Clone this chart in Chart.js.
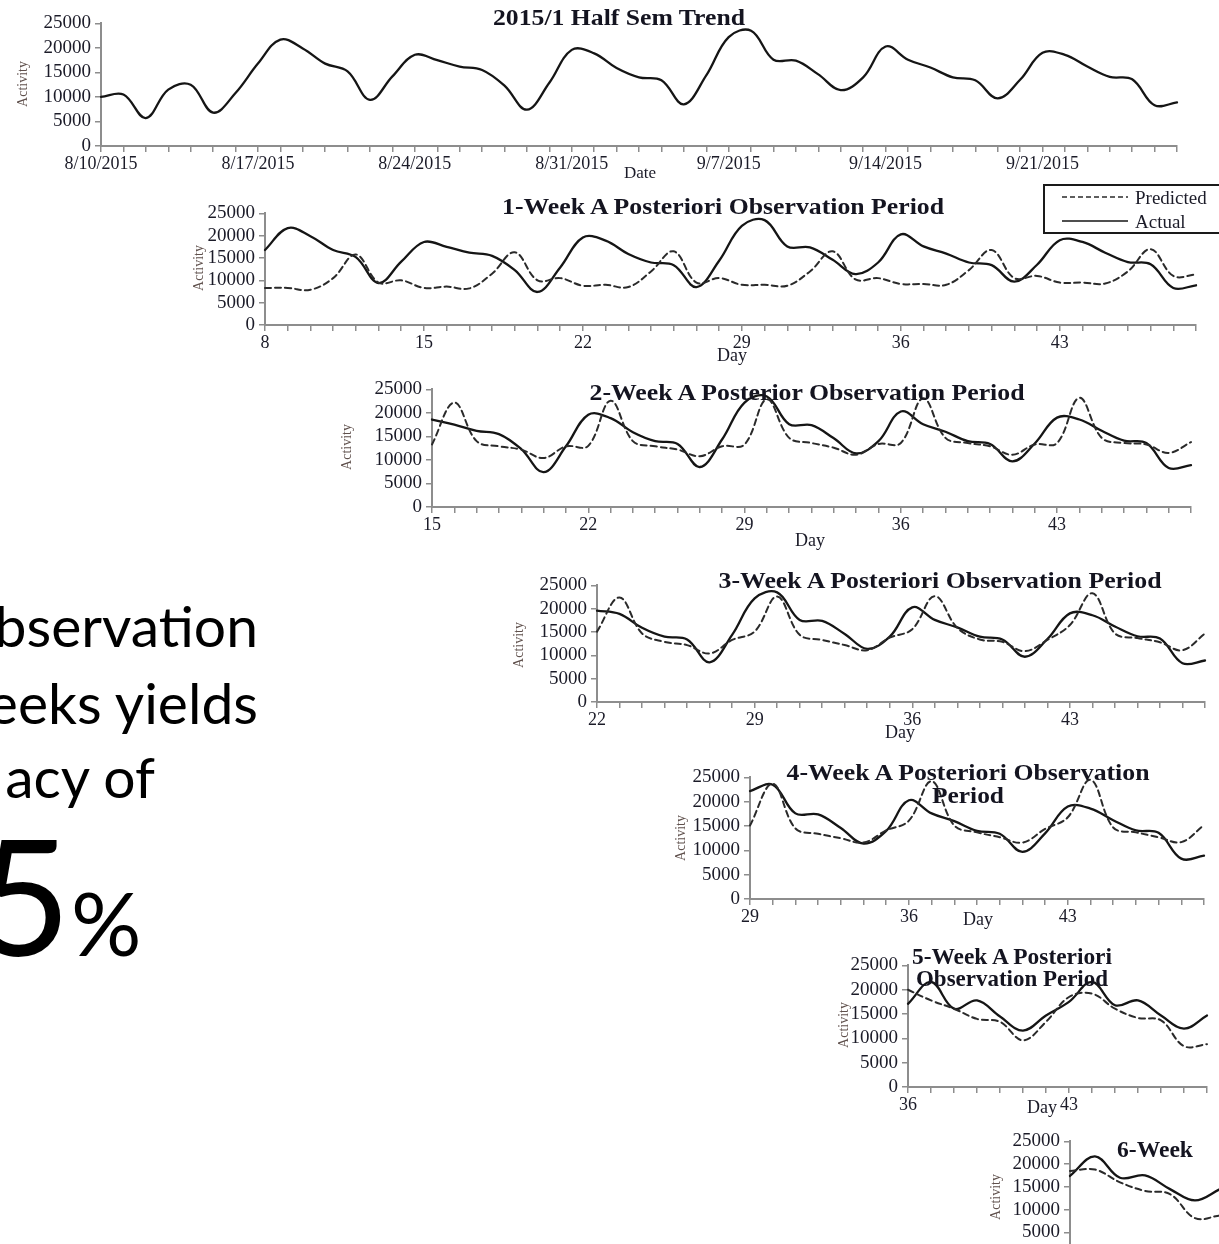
<!DOCTYPE html>
<html>
<head>
<meta charset="utf-8">
<script src="https://cdn.jsdelivr.net/npm/chart.js@4.4.1/dist/chart.umd.min.js"></script>
<style>
  html, body { margin: 0; padding: 0; background: #fff; }
  body { width: 1219px; height: 1244px; overflow: hidden; position: relative; }
  canvas.panel { position: absolute; }
  #overlay { position: absolute; left: 0; top: 0; pointer-events: none; }
</style>
</head>
<body>
<svg id="overlay" width="1219" height="1244" xmlns="http://www.w3.org/2000/svg"></svg>
<script>
// ---- data ----
const halfSemDates = [
  "8/10/2015","8/11/2015","8/12/2015","8/13/2015","8/14/2015","8/15/2015","8/16/2015",
  "8/17/2015","8/18/2015","8/19/2015","8/20/2015","8/21/2015","8/22/2015","8/23/2015",
  "8/24/2015","8/25/2015","8/26/2015","8/27/2015","8/28/2015","8/29/2015","8/30/2015",
  "8/31/2015","9/1/2015","9/2/2015","9/3/2015","9/4/2015","9/5/2015","9/6/2015",
  "9/7/2015","9/8/2015","9/9/2015","9/10/2015","9/11/2015","9/12/2015","9/13/2015",
  "9/14/2015","9/15/2015","9/16/2015","9/17/2015","9/18/2015","9/19/2015","9/20/2015",
  "9/21/2015","9/22/2015","9/23/2015","9/24/2015","9/25/2015","9/26/2015","9/27/2015"
];
const dayNumbers = [
  1,2,3,4,5,6,7,8,9,10,11,12,13,14,15,16,17,18,19,20,21,22,23,24,25,
  26,27,28,29,30,31,32,33,34,35,36,37,38,39,40,41,42,43,44,45,46,47,48,49
];
// observed activity per day (day 1 = 8/10/2015)
const actualActivity = [
  10000, 10500, 5700, 11500, 12500, 6800, 10800, 16800, 21700, 19900,
  16800, 15200, 9400, 14200, 18600, 17500, 16200, 15500, 12300, 7400,
  12900, 19600, 18900, 15900, 14000, 13400, 8500, 14400, 22200, 23500,
  17600, 17400, 14600, 11400, 14000, 20300, 17600, 16000, 14000, 13400,
  9700, 13500, 19000, 18600, 16200, 14100, 13600, 8300, 8900
];
// predictions, days 8..49
const predicted1Week = [
  8300, 8300, 7900, 10500, 15800, 9500, 10000, 8300, 8600, 8200,
  11500, 16300, 10000, 10500, 8800, 9000, 8500, 12000, 16500, 9500,
  10500, 9000, 9000, 8800, 12000, 16500, 10200, 10500, 9200, 9200,
  9000, 12300, 16800, 10500, 11000, 9500, 9500, 9300, 12000, 17000,
  11000, 11300
];
// days 15..49
const predicted2Week = [
  13300, 22200, 14000, 12900, 12200, 10400, 12900, 13000, 22600, 14000,
  12900, 12200, 10800, 12900, 13300, 22900, 14700, 13600, 12600, 11100,
  13400, 13600, 23100, 14700, 13600, 12900, 11100, 13300, 13600, 23200,
  14700, 13600, 13300, 11500, 13800
];
// days 22..49
const predicted3Week = [
  15100, 22400, 14700, 12900, 12200, 10400, 13300, 15100, 22600, 14400,
  13300, 12200, 11100, 13800, 15600, 22700, 15900, 13400, 12900, 10900,
  13300, 16500, 23300, 14700, 13700, 12800, 11100, 14700
];
// days 29..49
const predicted4Week = [
  15100, 23700, 14500, 13400, 12500, 11600, 14100, 16100, 24200, 15100,
  13700, 12700, 11600, 14400, 16800, 24500, 14700, 13700, 12700, 11700, 15200
];
// days 36..49
const actual5Week    = [17100, 21600, 16100, 17800, 14500, 11600, 14700, 17500, 21600, 16800, 17800, 14700, 12000, 14700];
const predicted5Week = [20000, 17800, 16100, 14000, 13400, 9600, 13400, 18500, 19200, 16100, 14200, 13700, 8400, 8800];
// days 43..49
const actual6Week    = [17400, 21700, 17000, 17500, 14500, 12000, 14500];
const predicted6Week = [18500, 18800, 16000, 14100, 13400, 8100, 8700];

const seriesNames = ["Predicted", "Actual"];
const yTicks = [0, 5000, 10000, 15000, 20000, 25000];

// ---- styling ----
const SERIF = "Liberation Serif";
const INK = "#1b1b28";
const AXIS = "#8d8d8d";
const actualStyle = { borderColor: "#151515", borderWidth: 2.3, borderDash: [] };
const predictedStyle = { borderColor: "#2a2a2a", borderWidth: 2, borderDash: [6, 4] };

function series(name, values, style) {
  return Object.assign({ label: name, data: values, pointRadius: 0, fill: false, clip: false }, style);
}

// each panel is positioned by the pixel edges of its data area
function drawPanel(p) {
  const yW = 80, xH = 34, padT = 14, padR = 10;
  const left = p.box.l - yW, top = p.box.t - padT;
  const w = p.box.r - left + padR, h = p.box.b - top + xH;
  const cv = document.createElement("canvas");
  cv.className = "panel";
  cv.width = w; cv.height = h;
  cv.style.left = left + "px"; cv.style.top = top + "px";
  cv.style.width = w + "px"; cv.style.height = h + "px";
  document.body.insertBefore(cv, document.getElementById("overlay"));
  return new Chart(cv, {
    type: "line",
    data: { labels: p.labels, datasets: p.datasets },
    options: {
      responsive: false,
      animation: false,
      devicePixelRatio: 1,
      layout: { padding: { top: padT, right: padR, left: 0, bottom: 0 } },
      plugins: { legend: { display: false }, tooltip: { enabled: false }, title: { display: false } },
      elements: { line: { tension: 0.38, borderCapStyle: "round", borderJoinStyle: "round" }, point: { radius: 0 } },
      scales: {
        x: {
          type: "category",
          offset: false,
          border: { display: true, color: AXIS, width: 2 },
          grid: { display: true, drawOnChartArea: false, drawTicks: true, tickLength: 6, color: AXIS, lineWidth: 1.5 },
          ticks: {
            autoSkip: false, maxRotation: 0, minRotation: 0, padding: 1,
            color: INK, font: { family: SERIF, size: 18 },
            callback: function (v, i) { return i % 7 === 0 ? this.getLabelForValue(v) : ""; }
          },
          afterFit: s => { s.height = xH; }
        },
        y: {
          min: 0, max: 25000,
          afterBuildTicks: s => { s.ticks = yTicks.map(v => ({ value: v })); },
          border: { display: true, color: AXIS, width: 2 },
          grid: { display: true, drawOnChartArea: false, drawTicks: true, tickLength: 6, color: AXIS, lineWidth: 1.5 },
          ticks: { autoSkip: false, padding: 4, color: INK, font: { family: SERIF, size: 19 },
                   callback: v => String(v) },
          afterFit: s => { s.width = yW; }
        }
      }
    }
  });
}

const panels = [
  { labels: halfSemDates, box: { l: 101, r: 1177, t: 22, b: 146 },
    datasets: [series(seriesNames[1], actualActivity, actualStyle)] },
  { labels: dayNumbers.slice(7), box: { l: 265, r: 1196, t: 212, b: 325 },
    datasets: [series(seriesNames[0], predicted1Week, predictedStyle), series(seriesNames[1], actualActivity.slice(7), actualStyle)] },
  { labels: dayNumbers.slice(14), box: { l: 432, r: 1191, t: 388, b: 507 },
    datasets: [series(seriesNames[0], predicted2Week, predictedStyle), series(seriesNames[1], actualActivity.slice(14), actualStyle)] },
  { labels: dayNumbers.slice(21), box: { l: 597, r: 1205, t: 584, b: 702 },
    datasets: [series(seriesNames[0], predicted3Week, predictedStyle), series(seriesNames[1], actualActivity.slice(21), actualStyle)] },
  { labels: dayNumbers.slice(28), box: { l: 750, r: 1204, t: 776, b: 899 },
    datasets: [series(seriesNames[0], predicted4Week, predictedStyle), series(seriesNames[1], actualActivity.slice(28), actualStyle)] },
  { labels: dayNumbers.slice(35), box: { l: 908, r: 1207, t: 964, b: 1087 },
    datasets: [series(seriesNames[0], predicted5Week, predictedStyle), series(seriesNames[1], actual5Week, actualStyle)] },
  { labels: dayNumbers.slice(42), box: { l: 1070, r: 1220, t: 1140, b: 1255 },
    datasets: [series(seriesNames[0], predicted6Week, predictedStyle), series(seriesNames[1], actual6Week, actualStyle)] }
];
panels.forEach(drawPanel);

// ---- text layer: titles, axis titles, legend, caption ----
const NS = "http://www.w3.org/2000/svg";
const svg = document.getElementById("overlay");
function el(tag, attrs, text) {
  const e = document.createElementNS(NS, tag);
  for (const k in attrs) e.setAttribute(k, attrs[k]);
  if (text !== undefined) e.textContent = text;
  svg.appendChild(e);
  return e;
}
// [text, centre x, centre y, width]
const titleLines = [
  ["2015/1 Half Sem Trend", 619, 17, 252],
  ["1-Week A Posteriori Observation Period", 723, 206, 442],
  ["2-Week A Posterior Observation Period", 807, 392, 435],
  ["3-Week A Posteriori Observation Period", 940, 580, 443],
  ["4-Week A Posteriori Observation", 968, 772, 363],
  ["Period", 968, 795, 72],
  ["5-Week A Posteriori", 1012, 956, 200],
  ["Observation Period", 1012, 978, 192],
  ["6-Week", 1155, 1149, 76]
];
titleLines.forEach(([t, x, y, len]) => el("text", {
  x, y, "text-anchor": "middle", "dominant-baseline": "central",
  textLength: len, lengthAdjust: "spacingAndGlyphs",
  "font-family": SERIF, "font-weight": "bold", "font-size": 24, fill: "#141420"
}, t));

const yTitlePos = [[22, 84], [198, 268], [346, 447], [518, 645], [680, 838], [843, 1025], [995, 1197]];
yTitlePos.forEach(([x, y]) => el("text", {
  transform: `translate(${x},${y}) rotate(-90)`, "text-anchor": "middle", "dominant-baseline": "central",
  "font-family": SERIF, "font-size": 14, fill: "#5f504c"
}, "Activity"));

el("text", { x: 640, y: 172, "text-anchor": "middle", "dominant-baseline": "central", "font-family": SERIF, "font-size": 17, fill: INK }, "Date");
[[732, 355], [810, 540], [900, 732], [978, 919], [1042, 1107]].forEach(([x, y]) => el("text", {
  x, y, "text-anchor": "middle", "dominant-baseline": "central", "font-family": SERIF, "font-size": 18, fill: INK
}, "Day"));

// legend for the 1-week panel
el("rect", { x: 1044, y: 185, width: 190, height: 48, fill: "#fff", stroke: "#1a1a1a", "stroke-width": 2 });
[predictedStyle, actualStyle].forEach((st, i) => {
  const y = 197 + i * 24;
  el("line", { x1: 1062, y1: y, x2: 1128, y2: y, stroke: st.borderColor, "stroke-width": 1.7,
               "stroke-dasharray": st.borderDash.length ? "5,3" : "none" });
  el("text", { x: 1135, y, "dominant-baseline": "central", "font-family": SERIF, "font-size": 19, fill: INK }, seriesNames[i]);
});

// caption on the left
const CAP = "Lato, 'Open Sans', sans-serif";
el("text", { x: 258, y: 647, "text-anchor": "end", "font-family": CAP, "font-size": 57, fill: "#000" }, "bservation");
el("text", { x: 258, y: 724, "text-anchor": "end", "font-family": CAP, "font-size": 57, fill: "#000" }, "eeks yields");
el("text", { x: 155, y: 798, "text-anchor": "end", "font-family": CAP, "font-size": 57, fill: "#000" }, "acy of");
el("text", { x: 71, y: 956, "text-anchor": "end", "font-family": CAP, "font-size": 162, fill: "#000" }, "5");
el("text", { x: 71, y: 956, "font-family": CAP, "font-size": 88, fill: "#000" }, "%");
</script>
</body>
</html>
